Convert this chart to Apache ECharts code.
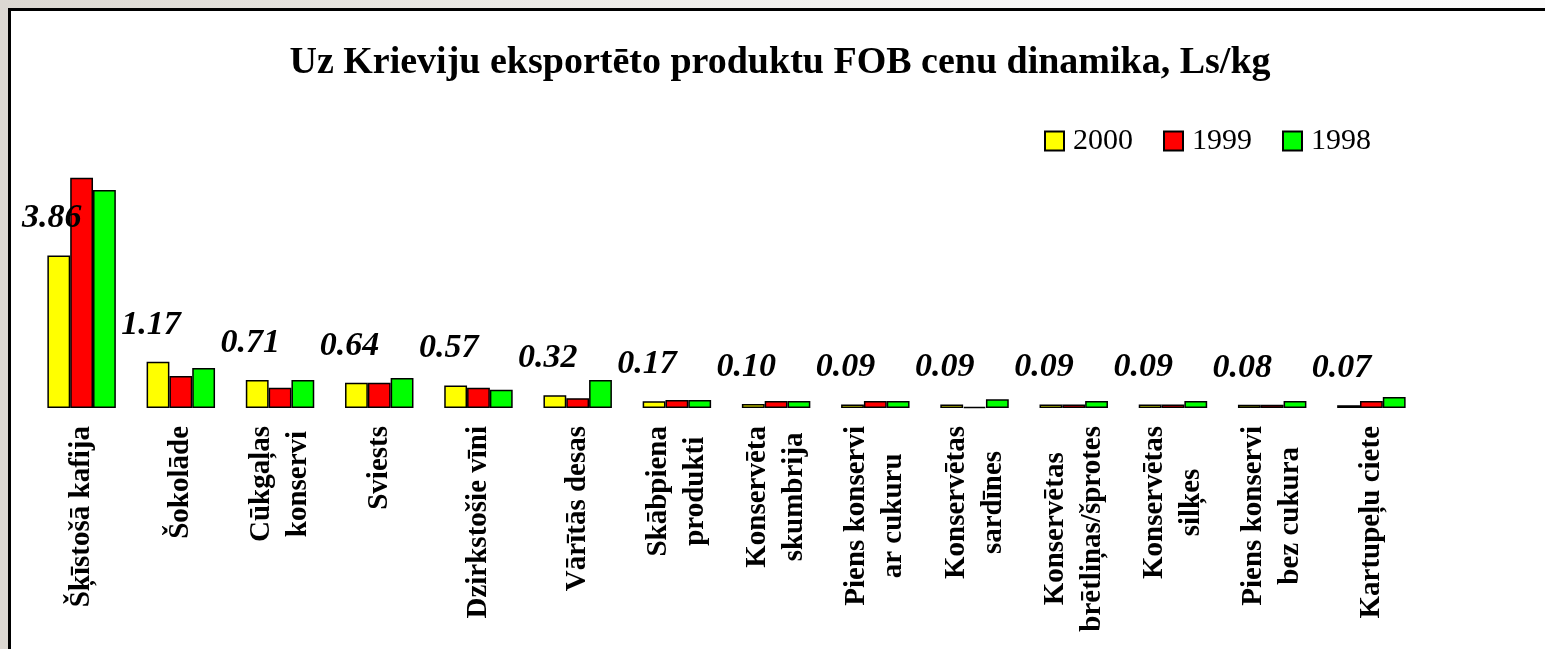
<!DOCTYPE html>
<html>
<head>
<meta charset="utf-8">
<script src="https://cdn.jsdelivr.net/npm/echarts@6/dist/echarts.min.js"></script>
<style>
  html, body { margin: 0; padding: 0; width: 1545px; height: 649px; overflow: hidden; }
  body { background: linear-gradient(to right, #dcd8d2 0px, #ebe9e5 500px, #f8f8f8 1100px, #fbfbfb 100%); position: relative; }
  #frame { position: absolute; left: 8px; top: 8px; right: -10px; bottom: -10px; background: #fff; border-left: 3px solid #000; border-top: 3px solid #000; }
  #chart { position: absolute; left: 0; top: 0; width: 1545px; height: 649px; }
</style>
</head>
<body>
<div id="frame"></div>
<div id="chart"></div>
<script>
const categories = [
  'Šķīstošā kafija',
  'Šokolāde',
  'Cūkgaļas\nkonservi',
  'Sviests',
  'Dzirkstošie vīni',
  'Vārītās desas',
  'Skābpiena\nprodukti',
  'Konservēta\nskumbrija',
  'Piens konservi\nar cukuru',
  'Konservētas\nsardīnes',
  'Konservētas\nbrētliņas/šprotes',
  'Konservētas\nsilķes',
  'Piens konservi\nbez cukura',
  'Kartupeļu ciete'
];
const seriesNames = ['2000', '1999', '1998'];
const values2000 = [3.86, 1.17, 0.71, 0.64, 0.57, 0.32, 0.17, 0.10, 0.09, 0.09, 0.09, 0.09, 0.08, 0.07];
const values1999 = [5.83, 0.81, 0.51, 0.64, 0.51, 0.25, 0.20, 0.18, 0.18, 0.03, 0.09, 0.09, 0.08, 0.18];
const values1998 = [5.52, 1.01, 0.71, 0.76, 0.46, 0.71, 0.20, 0.18, 0.18, 0.22, 0.18, 0.18, 0.18, 0.28];
const titleText = 'Uz Krieviju eksportēto produktu FOB cenu dinamika, Ls/kg';

const serif = "'Liberation Serif', 'Times New Roman', serif";
const chart = echarts.init(document.getElementById('chart'), null, { renderer: 'canvas' });

function barSeries(name, data, color, withLabel) {
  return {
    name: name,
    type: 'bar',
    data: data,
    barGap: '0%',
    barCategoryGap: '31%',
    itemStyle: { color: color, borderColor: '#000', borderWidth: 1.5 },
    label: withLabel ? {
      show: true,
      position: 'top',
      distance: 20,
      offset: [-7, 0],
      formatter: p => p.value.toFixed(2),
      fontFamily: serif,
      fontSize: 34,
      fontWeight: 'bold',
      fontStyle: 'italic',
      color: '#000'
    } : { show: false },
    emphasis: { disabled: true }
  };
}

chart.setOption({
  backgroundColor: 'transparent',
  animation: false,
  title: {
    text: titleText,
    left: 775,
    textAlign: 'center',
    top: 39,
    textStyle: { fontFamily: serif, fontSize: 38, fontWeight: 'bold', color: '#000' }
  },
  legend: {
    data: seriesNames,
    left: 1039,
    top: 121,
    icon: 'rect',
    itemWidth: 19,
    itemHeight: 19,
    itemGap: 30,
    textStyle: { fontFamily: serif, fontSize: 30, color: '#000', padding: [0, 0, 0, 4] }
  },
  grid: { left: 32, right: 124, top: 171, bottom: 241, containLabel: false },
  xAxis: {
    type: 'category',
    data: categories,
    axisLine: { show: false },
    axisTick: { show: false },
    axisLabel: {
      interval: 0,
      rotate: 90,
      margin: 18,
      color: '#000',
      fontFamily: serif,
      fontSize: 29,
      fontWeight: 'bold',
      formatter: v => v.split('\n').map(s => '{c|' + s + '}').join('\n'),
      rich: {
        c: { align: 'center', fontFamily: serif, fontSize: 29, fontWeight: 'bold', color: '#000', lineHeight: 37 }
      }
    }
  },
  yAxis: {
    type: 'value',
    min: 0,
    max: 6,
    show: false,
    splitLine: { show: false }
  },
  series: [
    barSeries(seriesNames[0], values2000, '#ffff00', true),
    barSeries(seriesNames[1], values1999, '#ff0000', false),
    barSeries(seriesNames[2], values1998, '#00ff00', false)
  ]
});
</script>
</body>
</html>
